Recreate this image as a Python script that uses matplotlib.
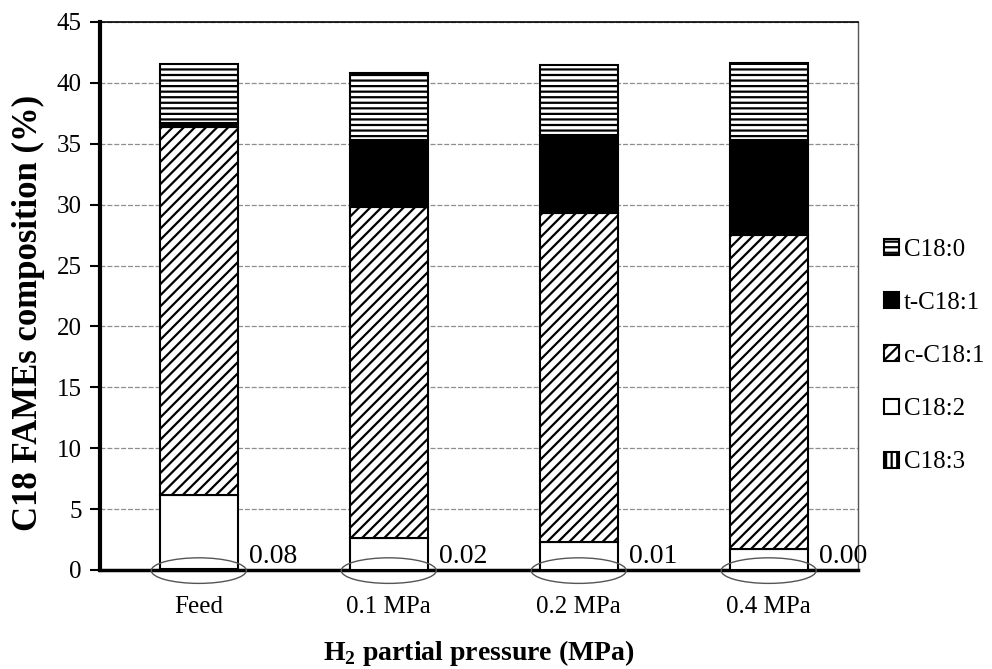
import matplotlib
matplotlib.use("Agg")
import matplotlib.pyplot as plt
from matplotlib.patches import Patch, Ellipse
import numpy as np

plt.rcParams['font.family'] = ['Liberation Serif', 'DejaVu Serif']
plt.rcParams['mathtext.fontset'] = 'custom'
plt.rcParams['mathtext.rm'] = 'Liberation Serif'
plt.rcParams['mathtext.bf'] = 'Liberation Serif:bold'
plt.rcParams['hatch.linewidth'] = 1.6

# Data: C18 FAME composition (%) at each H2 partial pressure
categories = ["Feed", "0.1 MPa", "0.2 MPa", "0.4 MPa"]
c18_3 = [0.08, 0.02, 0.01, 0.00]
c18_2 = [6.1, 2.6, 2.3, 1.7]
c_c18_1 = [30.2, 27.2, 27.0, 25.8]
t_c18_1 = [0.35, 5.5, 6.45, 7.8]
c18_0 = [4.85, 5.5, 5.7, 6.3]

series = [
    ("C18:3", c18_3, dict(facecolor="white", hatch="|||")),
    ("C18:2", c18_2, dict(facecolor="white", hatch=None)),
    ("c-C18:1", c_c18_1, dict(facecolor="white", hatch="///")),
    ("t-C18:1", t_c18_1, dict(facecolor="black", hatch=None)),
    ("C18:0", c18_0, dict(facecolor="white", hatch="---")),
]
legend_order = ["C18:0", "t-C18:1", "c-C18:1", "C18:2", "C18:3"]
yticks = [0, 5, 10, 15, 20, 25, 30, 35, 40, 45]

fig = plt.figure(figsize=(9.92, 6.69), dpi=100)
ax = fig.add_axes([100 / 992, 1 - 570 / 669, 758 / 992, 548 / 669])

x = np.arange(len(categories))
width = 0.41
bottom = np.zeros(len(categories))
handles = {}
for name, vals, style in series:
    ax.bar(x, vals, width, bottom=bottom, edgecolor="black", linewidth=1.5,
           zorder=3, **style)
    bottom += np.array(vals)
    handles[name] = Patch(edgecolor="black", linewidth=1.5, **style)

# Ellipses around the C18:3 bar bases with their values
for xi, v in zip(x, c18_3):
    ax.add_patch(Ellipse((xi, -0.05), 0.5, 2.1, fill=False, edgecolor="#555555",
                         linewidth=1.0, zorder=4, clip_on=False))
    ax.text(xi + 0.265, 0.05, f"{v:.2f}", fontsize=20, ha="left", va="bottom",
            zorder=5, clip_on=False)

ax.set_xlim(-0.52, 3.47)
ax.set_ylim(0, 45)
ax.set_yticks(yticks)
ax.set_xticks(x)
ax.set_xticklabels(categories, fontsize=18)
ax.tick_params(axis="x", length=0, pad=19)
ax.tick_params(axis="y", labelsize=18, length=7, width=1.5, direction="out", pad=6)

ax.yaxis.grid(True, color="#8f8f8f", linewidth=0.9, linestyle=(0, (4, 1.5)), zorder=0)
ax.set_axisbelow(True)

ax.spines["left"].set_linewidth(3)
ax.spines["bottom"].set_linewidth(2.5)
ax.spines["top"].set_linewidth(1.2)
ax.spines["right"].set_linewidth(1.0)
ax.spines["right"].set_color("#555555")

ax.set_ylabel("C18 FAMEs composition (%)", fontsize=25, fontweight="bold")
ax.yaxis.set_label_coords(-0.072, 0.47)
ax.set_xlabel(r"H$_\mathbf{2}$ partial pressure (MPa)", fontsize=20,
              fontweight="bold", labelpad=14)

fig.legend([handles[n] for n in legend_order], legend_order,
           loc="center left", bbox_to_anchor=(874 / 992, 1 - 356 / 669),
           frameon=False, fontsize=18, handlelength=0.6, handleheight=0.6,
           handletextpad=0.2, labelspacing=1.25, borderaxespad=0)

fig.savefig("out.png", dpi=100)
